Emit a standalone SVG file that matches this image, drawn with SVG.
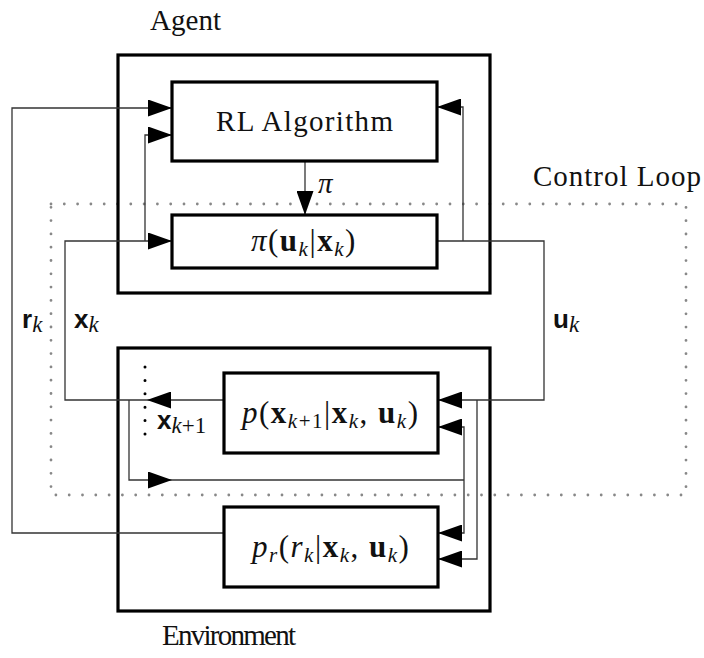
<svg xmlns="http://www.w3.org/2000/svg" width="704" height="658" viewBox="0 0 704 658">
<defs>
<marker id="ah" markerUnits="userSpaceOnUse" markerWidth="24" markerHeight="17" refX="24" refY="8.5" orient="auto">
<path d="M0,0 L24,8.5 L0,17 z" fill="#000"/>
</marker>
<style>
.box{fill:#fff;stroke:#000;stroke-width:3.2}
.outer{fill:none;stroke:#000;stroke-width:3.2}
.c{fill:none;stroke:#333;stroke-width:1.3}
.a{marker-end:url(#ah)}
.loop{fill:none;stroke:#888;stroke-width:2.8;stroke-dasharray:0 13.3;stroke-linecap:round}
.dots{fill:none;stroke:#000;stroke-width:3;stroke-dasharray:0 13.4;stroke-linecap:round}
.t{font-family:"Liberation Serif",serif;font-size:29px;fill:#111}
.m{font-family:"Liberation Serif",serif;font-size:31px;fill:#111;letter-spacing:1.5px}
.s{font-family:"Liberation Sans",sans-serif;font-weight:bold;font-size:26px;fill:#111}
.i{font-style:italic}
.b{font-weight:bold}
.sub{font-style:italic;font-size:21px}
.ls{font-weight:normal;font-family:"Liberation Serif",serif;font-size:23px}
</style>
</defs>

<rect class="loop" x="51" y="204" width="635" height="291"/>

<g id="agent">
<rect class="outer" x="118" y="55" width="372" height="238"/>
<text class="t" x="150" y="30" textLength="71">Agent</text>
</g>
<g id="environment">
<rect class="outer" x="118" y="348" width="372" height="263"/>
<text class="t" x="162" y="645" textLength="134">Environment</text>
</g>
<g id="control-loop-label">
<text class="t" x="533" y="186" textLength="168">Control Loop</text>
</g>

<g id="connectors">
<path class="c a" d="M224,533 H12 V108 H172"/>
<path class="c a" d="M224,400 H147"/>
<path class="c a" d="M147,400 H65 V241 H172"/>
<path class="c a" d="M145,241 V135 H172"/>
<path class="c a" d="M129,400 V480 H172"/>
<path class="c" d="M172,480 H464"/>
<path class="c a" d="M464,480 V427 H438"/>
<path class="c a" d="M464,480 V533 H438"/>
<path class="c a" d="M437,241 H544 V400 H438"/>
<path class="c a" d="M463,241 V107 H437"/>
<path class="c a" d="M477,400 V559 H438"/>
<path class="c a" d="M305,161 V215"/>
<path class="dots" d="M145,367 V434"/>
<text class="t i" x="318" y="193">π</text>
<text class="s" x="22" y="328">r<tspan class="sub ls" dy="4">k</tspan></text>
<text class="s" x="74" y="328">x<tspan class="sub ls" dy="4">k</tspan></text>
<text class="s" x="553" y="328">u<tspan class="sub ls" dy="4">k</tspan></text>
<text class="s" x="157" y="429">x<tspan class="sub ls" dy="4">k</tspan><tspan class="ls">+1</tspan></text>
</g>

<g id="rl-algorithm">
<rect class="box" x="172" y="82" width="265" height="79"/>
<text class="t" x="216" y="131" textLength="177">RL Algorithm</text>
</g>
<g id="policy">
<rect class="box" x="172" y="215" width="265" height="53"/>
<text class="m" x="251" y="251"><tspan class="i">π</tspan>(<tspan class="b">u</tspan><tspan class="sub" dy="5">k</tspan><tspan dy="-5">|</tspan><tspan class="b">x</tspan><tspan class="sub" dy="5">k</tspan><tspan dy="-5">)</tspan></text>
</g>
<g id="transition">
<rect class="box" x="224" y="373" width="214" height="80"/>
<text class="m" x="242" y="423" letter-spacing="1.9"><tspan class="i">p</tspan>(<tspan class="b">x</tspan><tspan class="sub" dy="5">k</tspan><tspan font-size="21px">+1</tspan><tspan dy="-5">|</tspan><tspan class="b">x</tspan><tspan class="sub" dy="5">k</tspan><tspan dy="-5">, </tspan><tspan class="b">u</tspan><tspan class="sub" dy="5">k</tspan><tspan dy="-5">)</tspan></text>
</g>
<g id="reward">
<rect class="box" x="224" y="507" width="214" height="80"/>
<text class="m" x="252" y="557"><tspan class="i">p</tspan><tspan class="sub" dy="5">r</tspan><tspan dy="-5">(</tspan><tspan class="i">r</tspan><tspan class="sub" dy="5">k</tspan><tspan dy="-5">|</tspan><tspan class="b">x</tspan><tspan class="sub" dy="5">k</tspan><tspan dy="-5">, </tspan><tspan class="b">u</tspan><tspan class="sub" dy="5">k</tspan><tspan dy="-5">)</tspan></text>
</g>
</svg>
